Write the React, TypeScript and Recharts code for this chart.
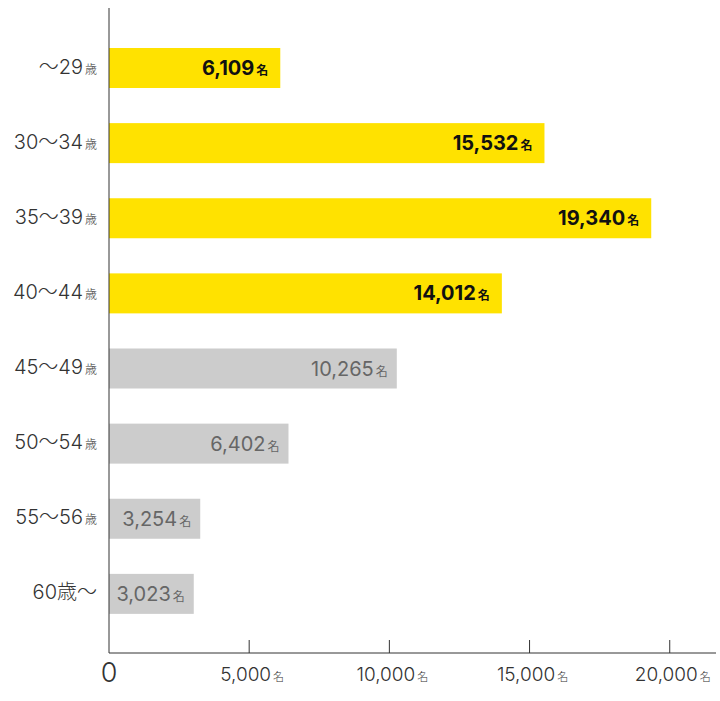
import React from "react";
import { BarChart, Bar, XAxis, YAxis, Cell } from "recharts";

const ageGroups = ["〜29歳", "30〜34歳", "35〜39歳", "40〜44歳", "45〜49歳", "50〜54歳", "55〜56歳", "60歳〜"];
const counts = [6109, 15532, 19340, 14012, 10265, 6402, 3254, 3023];
const highlighted = [true, true, true, true, false, false, false, false];
const xTicks = [0, 5000, 10000, 15000, 20000];
const unitLabel = "名";

const YELLOW = "#FFE200";
const GRAY = "#CCCCCC";
const FONT = "Inter, 'Noto Sans CJK JP', sans-serif";

const data = ageGroups.map((age, i) => ({ age, value: counts[i], hl: highlighted[i] }));

const fmt = (n: number) => n.toLocaleString("en-US");

const YTick = (props: any) => {
  const { x, y, payload } = props;
  const label: string = payload.value;
  const endsWithSai = label.endsWith("歳");
  return (
    <text x={x - 12} y={y} dy={6} textAnchor="end" fontFamily={FONT} fill="#333" fontSize={20} fontWeight={300}>
      {endsWithSai ? (
        <>
          <tspan>{label.slice(0, -1)}</tspan>
          <tspan fontSize={12} dx={2}>歳</tspan>
        </>
      ) : (
        <tspan>{label}</tspan>
      )}
    </text>
  );
};

const XTick = (props: any) => {
  const { x, y, payload } = props;
  const v: number = payload.value;
  if (v === 0) {
    return (
      <text x={x} y={y + 29} textAnchor="middle" fontFamily={FONT} fontSize={27} fontWeight={300} fill="#333">
        0
      </text>
    );
  }
  return (
    <g>
      <line x1={x} y1={y} x2={x} y2={y - 13} stroke="#333" strokeWidth={1} />
      <text x={x + 3} y={y + 28} textAnchor="middle" fontFamily={FONT} fontSize={19} fontWeight={300} fill="#333">
        <tspan>{fmt(v)}</tspan>
        <tspan fontSize={11} dx={2}>{unitLabel}</tspan>
      </text>
    </g>
  );
};

const BarShape = (props: any) => {
  const { x, y, width, height, payload } = props;
  const hl = payload.hl;
  return (
    <g>
      <rect x={x} y={y} width={width} height={height} fill={hl ? YELLOW : GRAY} />
      <text
        x={x + width - (hl ? 12 : 9)}
        y={y + height / 2 + 7}
        textAnchor="end"
        fontFamily={FONT}
        fontSize={20}
        fontWeight={hl ? 700 : 400}
        fill={hl ? "#111" : "#666"}
      >
        <tspan>{fmt(payload.value)}</tspan>
        <tspan fontSize={12} dx={2} fontWeight={hl ? 700 : 400}>{unitLabel}</tspan>
      </text>
    </g>
  );
};

export default function App() {
  return (
    <div style={{ position: "absolute", left: 0, top: 0, width: 720, height: 701, background: "#fff" }}>
      <BarChart
        width={720}
        height={701}
        data={data}
        layout="vertical"
        margin={{ top: 8, right: 4, left: 0, bottom: 0 }}
        barSize={40}
      >
        <XAxis
          type="number"
          domain={[0, 21650]}
          ticks={xTicks}
          height={48}
          tickSize={0}
          tickMargin={0}
          tickLine={false}
          axisLine={{ stroke: "#333", strokeWidth: 1 }}
          tick={<XTick />}
          interval={0}
          allowDataOverflow
        />
        <YAxis
          type="category"
          dataKey="age"
          width={109}
          tickSize={0}
          tickMargin={0}
          tickLine={false}
          axisLine={{ stroke: "#333", strokeWidth: 1 }}
          tick={<YTick />}
          padding={{ top: 22, bottom: 22 }}
          interval={0}
        />
        <Bar dataKey="value" isAnimationActive={false} shape={<BarShape />}>
          {data.map((d, i) => (
            <Cell key={i} fill={d.hl ? YELLOW : GRAY} />
          ))}
        </Bar>
      </BarChart>
    </div>
  );
}
